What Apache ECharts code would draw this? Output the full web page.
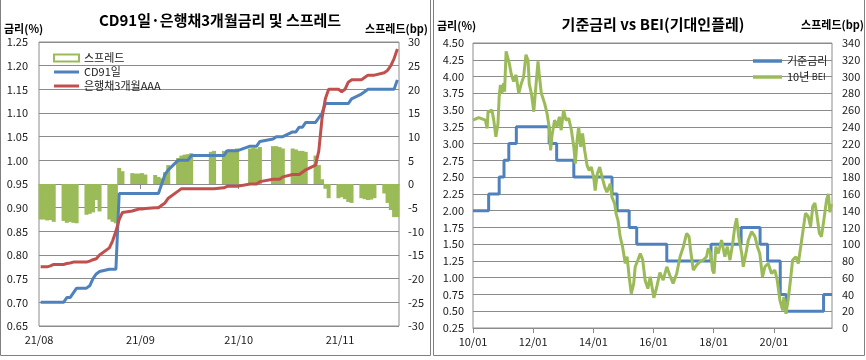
<!DOCTYPE html>
<html><head><meta charset="utf-8">
<script src="https://cdn.jsdelivr.net/npm/echarts@6/dist/echarts.min.js"></script>
<style>html,body{margin:0;padding:0;background:#fff}#c{width:866px;height:360px}</style>
</head><body><div id="c"></div>
<script>
const FONT = '"Noto Sans CJK KR","Noto Sans",sans-serif';

// ---------- Left chart: CD91 vs bank bond 3M AAA (2021) ----------
const leftDates = [
 '08-02','08-03','08-04','08-05','08-06','08-09','08-10','08-11','08-12','08-13',
 '08-16','08-17','08-18','08-19','08-20','08-23','08-24','08-25','08-26','08-27',
 '08-30','08-31','09-01','09-02','09-03','09-06','09-07','09-08','09-09','09-10',
 '09-13','09-14','09-15','09-16','09-17','09-23','09-24','09-27','09-28','09-29',
 '09-30','10-01','10-05','10-06','10-07','10-08','10-12','10-13','10-14','10-15',
 '10-18','10-19','10-20','10-21','10-22','10-25','10-26','10-27','10-28','10-29',
 '11-01','11-02','11-03','11-04','11-05','11-08','11-09','11-10','11-11','11-12',
 '11-15','11-16','11-17','11-18','11-19'];
const cd91 = [
 0.70,0.70,0.70,0.70,0.70, 0.70,0.71,0.71,0.72,0.73,
 0.73,0.735,0.75,0.76,0.765, 0.77,0.77,0.77,0.93,0.93,
 0.93,0.93,0.93,0.93,0.93, 0.93,0.93,0.95,0.97,0.98,
 1.00,1.00,1.00,1.00,1.01, 1.01,1.01, 1.01,1.02,1.02,
 1.02,1.02, 1.03,1.03,1.03,1.04, 1.045,1.05,1.05,1.05,
 1.06,1.06,1.07,1.07,1.08, 1.08,1.09,1.10,1.12,1.12,
 1.12,1.12,1.12,1.12,1.13, 1.14,1.145,1.15,1.15,1.15,
 1.15,1.15,1.15,1.15,1.17];
const bank3m = [
 0.775,0.775,0.775,0.777,0.78, 0.78,0.782,0.783,0.785,0.785,
 0.785,0.787,0.79,0.792,0.80, 0.815,0.83,0.85,0.875,0.89,
 0.893,0.895,0.897,0.897,0.898, 0.90,0.90,0.905,0.91,0.92,
 0.935,0.94,0.94,0.94,0.94, 0.94,0.94, 0.942,0.945,0.945,
 0.945,0.945, 0.95,0.95,0.95,0.955, 0.96,0.96,0.96,0.965,
 0.97,0.97,0.97,0.975,0.98, 0.99,1.02,1.09,1.13,1.15,
 1.15,1.145,1.15,1.165,1.17, 1.17,1.175,1.18,1.18,1.18,
 1.185,1.19,1.20,1.215,1.235];
const spreadBp = [
 -7.5,-7.5,-7.7,-7.6,-8.0, -7.8,-8.2,-8.0,-8.2,-8.3,
 -6.5,-6.3,-6.0,-3.4,-5.8, -7.5,-8.0,-8.3,3.4,2.7,
 2.3,2.2,2.2,2.3,2.0, 1.9,1.5,1.2,2.5,4.0,
 5.5,6.0,6.2,6.3,6.5, 6.8,7.0, 7.0,7.2,7.3,
 7.3,7.5, 7.5,7.6,7.5,7.8, 8.0,8.0,7.8,7.5,
 7.5,7.3,7.0,7.0,6.8, 6.0,4.0,1.0,-1.0,-3.0,
 -3.0,-2.8,-3.2,-3.8,-4.0, -3.0,-3.2,-3.4,-3.3,-3.0,
 -2.0,-4.0,-5.5,-7.0,-7.0];
const leftTickDates = ['08-02','09-02','10-02','11-02'];
const leftTickLabels = ['21/08','21/09','21/10','21/11'];

// ---------- Right chart: base rate vs 10y BEI ----------
const baseRateYears = [2010.00,2010.52,2010.87,2011.03,2011.19,2011.44,2012.53,2012.78,2013.35,2014.62,
 2014.79,2015.19,2015.44,2016.44,2017.91,2018.91,2019.54,2019.79,2020.21,2020.41,2021.65,2021.93];
const baseRate = [2.00,2.25,2.50,2.75,3.00,3.25,3.00,2.75,2.50,2.25,
 2.00,1.75,1.50,1.25,1.50,1.75,1.50,1.25,0.75,0.50,0.75,0.75];
const beiYears = [
 2010.00,2010.19,2010.41,2010.47,2010.50,2010.63,2010.69,2010.76,2010.83,2010.87,
 2010.91,2010.96,2011.02,2011.05,2011.10,2011.14,2011.21,2011.27,2011.35,2011.43,
 2011.52,2011.60,2011.68,2011.76,2011.83,2011.87,2011.94,2012.02,2012.07,2012.16,
 2012.20,2012.27,2012.38,2012.46,2012.53,2012.58,2012.62,2012.71,2012.79,2012.87,
 2012.93,2013.01,2013.09,2013.18,2013.27,2013.35,2013.40,2013.46,2013.51,2013.58,
 2013.64,2013.71,2013.79,2013.86,2013.93,2014.01,2014.06,2014.13,2014.21,2014.29,
 2014.38,2014.45,2014.56,2014.62,2014.71,2014.75,2014.82,2014.89,2014.97,2015.06,
 2015.12,2015.19,2015.26,2015.34,2015.39,2015.48,2015.56,2015.64,2015.72,2015.81,
 2015.89,2016.01,2016.10,2016.21,2016.32,2016.44,2016.54,2016.65,2016.77,2016.88,
 2016.99,2017.10,2017.18,2017.23,2017.32,2017.43,2017.54,2017.65,2017.76,2017.82,
 2017.90,2017.96,2018.01,2018.07,2018.15,2018.26,2018.37,2018.45,2018.54,2018.63,
 2018.70,2018.76,2018.83,2018.93,2018.98,2019.07,2019.15,2019.26,2019.37,2019.45,
 2019.53,2019.62,2019.70,2019.81,2019.92,2020.03,2020.11,2020.20,2020.29,2020.33,
 2020.40,2020.47,2020.55,2020.62,2020.73,2020.81,2020.89,2020.97,2021.05,2021.14,
 2021.22,2021.29,2021.36,2021.42,2021.51,2021.58,2021.66,2021.75,2021.81,2021.86,
 2021.91];
const beiBp = [
 248,251,248,238,258,260,248,228,244,276,
 290,280,292,282,330,332,315,303,294,302,
 280,291,299,326,319,291,280,258,280,318,
 303,280,268,256,240,212,228,248,240,252,
 236,260,248,250,236,216,196,224,240,216,
 232,212,194,188,192,180,164,184,192,180,
 168,162,172,156,148,137,128,109,97,77,
 85,61,41,53,73,81,89,81,57,47,
 61,36,48,66,57,73,63,53,65,85,
 97,113,109,93,69,75,79,81,85,95,
 89,69,65,97,89,105,85,97,81,101,
 121,131,109,89,73,89,105,115,109,97,
 89,61,73,77,65,69,57,33,21,37,
 17,33,57,81,85,77,97,117,137,133,
 121,145,149,137,113,109,129,153,160,138,
 148];
const rightTickYears = [2010,2012,2014,2016,2018,2020];
const rightTickLabels = ['10/01','12/01','14/01','16/01','18/01','20/01'];

// ---------- helpers ----------
const BASE = Date.UTC(2021,7,2);
function dayOff(s){const [m,d]=s.split('-').map(Number);return (Date.UTC(2021,m-1,d)-BASE)/864e5;}
const lx = leftDates.map(d=>dayOff(d)+0.5);
const zip = (xs,ys)=>xs.map((x,i)=>[x,ys[i]]);
const leftTickPos = leftTickDates.map(dayOff);

const GRIDC = '#8c8c8c', TXT = '#1a1a1a';
const BLUE = '#4F81BD', RED = '#C0504D', GREEN = '#9BBB59';
const lbl = {color:TXT,fontSize:11,fontFamily:FONT};
const LINE_ICON = 'path://M0,0L25,0L25,3L0,3Z';

const chart = echarts.init(document.getElementById('c'), null, {renderer:'canvas'});
chart.setOption({
  animation:false,
  textStyle:{fontFamily:FONT},
  grid:[
    {left:39,top:42,width:360,height:284,show:true,borderColor:GRIDC,borderWidth:1,containLabel:false},
    {left:473,top:43,width:359,height:285,show:true,borderColor:GRIDC,borderWidth:1,containLabel:false}
  ],
  xAxis:[
    {type:'value',gridIndex:0,min:0,max:110,
     axisLine:{lineStyle:{color:GRIDC}},splitLine:{show:false},
     axisTick:{show:true,length:5,lineStyle:{color:GRIDC},customValues:leftTickPos},
     axisLabel:Object.assign({},lbl,{margin:8,customValues:leftTickPos,
       formatter:v=>{const i=leftTickPos.indexOf(v);return i>=0?leftTickLabels[i]:'';}})},
    {type:'value',gridIndex:1,min:2010,max:2021.93,
     axisLine:{lineStyle:{color:GRIDC}},splitLine:{show:false},
     axisTick:{show:true,length:5,lineStyle:{color:GRIDC},customValues:rightTickYears},
     axisLabel:Object.assign({},lbl,{margin:8,customValues:rightTickYears,
       formatter:v=>{const i=rightTickYears.indexOf(Math.round(v));return i>=0?rightTickLabels[i]:'';}})}
  ],
  yAxis:[
    {type:'value',gridIndex:0,position:'left',min:0.65,max:1.25,interval:0.05,
     axisLine:{show:false},axisTick:{show:false},
     splitLine:{lineStyle:{color:GRIDC}},
     axisLabel:Object.assign({},lbl,{margin:11,formatter:v=>v.toFixed(2)})},
    {type:'value',gridIndex:0,position:'right',min:-30,max:30,interval:5,
     axisLine:{show:false},axisTick:{show:false},splitLine:{show:false},
     axisLabel:Object.assign({},lbl,{margin:9,formatter:v=>String(Math.round(v))})},
    {type:'value',gridIndex:1,position:'left',min:0.25,max:4.5,interval:0.25,
     axisLine:{show:false},axisTick:{show:false},
     splitLine:{lineStyle:{color:GRIDC}},
     axisLabel:Object.assign({},lbl,{margin:9,formatter:v=>v.toFixed(2)})},
    {type:'value',gridIndex:1,position:'right',min:0,max:340,interval:20,
     axisLine:{show:false},axisTick:{show:false},splitLine:{show:false},
     axisLabel:Object.assign({},lbl,{margin:10,formatter:v=>String(Math.round(v))})}
  ],
  legend:[
    {left:48,top:46,orient:'vertical',itemWidth:25,itemHeight:7,itemGap:0,
     textStyle:{fontSize:11,color:TXT,fontFamily:FONT,lineHeight:14},
     data:[
       {name:'스프레드',icon:'rect',itemStyle:{color:'#fff',borderColor:GREEN,borderWidth:2}},
       {name:'CD91일',icon:LINE_ICON,itemStyle:{color:BLUE}},
       {name:'은행채3개월AAA',icon:LINE_ICON,itemStyle:{color:RED}}]},
    {left:748,top:48,orient:'vertical',itemWidth:29,itemHeight:8,itemGap:0,
     textStyle:{fontSize:11,color:TXT,fontFamily:FONT,lineHeight:16,
       rich:{s:{fontSize:9,fontFamily:FONT,color:TXT}}},
     formatter:n=>n==='10년 BEI'?'10년 {s|BEI}':n,
     data:[{name:'기준금리',icon:LINE_ICON,itemStyle:{color:BLUE}},
           {name:'10년 BEI',icon:LINE_ICON,itemStyle:{color:GREEN}}]}
  ],
  series:[
    {name:'스프레드',type:'bar',xAxisIndex:0,yAxisIndex:1,barWidth:4,
     itemStyle:{color:GREEN},data:zip(lx,spreadBp)},
    {name:'CD91일',type:'line',xAxisIndex:0,yAxisIndex:0,showSymbol:false,symbol:'none',
     lineStyle:{color:BLUE,width:3},itemStyle:{color:BLUE},data:zip(lx,cd91)},
    {name:'은행채3개월AAA',type:'line',xAxisIndex:0,yAxisIndex:0,showSymbol:false,symbol:'none',
     lineStyle:{color:RED,width:3},itemStyle:{color:RED},data:zip(lx,bank3m)},
    {name:'기준금리',type:'line',xAxisIndex:1,yAxisIndex:2,step:'end',showSymbol:false,symbol:'none',
     lineStyle:{color:BLUE,width:3},itemStyle:{color:BLUE},data:zip(baseRateYears,baseRate)},
    {name:'10년 BEI',type:'line',xAxisIndex:1,yAxisIndex:3,showSymbol:false,symbol:'none',
     lineStyle:{color:GREEN,width:3},itemStyle:{color:GREEN},data:zip(beiYears,beiBp)}
  ],
  graphic:[
    {type:'rect',shape:{x:0.5,y:-2,width:430,height:357.5},style:{fill:'none',stroke:'#808080',lineWidth:1},silent:true},
    {type:'rect',shape:{x:433.5,y:-2,width:431,height:357.5},style:{fill:'none',stroke:'#808080',lineWidth:1},silent:true},
    {type:'text',x:220,y:20,style:{text:'CD91일·은행채3개월금리 및 스프레드',font:'bold 15px '+FONT,fill:'#000',align:'center',verticalAlign:'middle'}},
    {type:'text',x:4,y:29,style:{text:'금리(%)',font:'bold 11px '+FONT,fill:'#000',align:'left',verticalAlign:'middle'}},
    {type:'text',x:428,y:29,style:{text:'스프레드(bp)',font:'bold 11px '+FONT,fill:'#000',align:'right',verticalAlign:'middle'}},
    {type:'text',x:653,y:24,style:{text:'기준금리 vs BEI(기대인플레)',font:'bold 15px '+FONT,fill:'#000',align:'center',verticalAlign:'middle'}},
    {type:'text',x:437,y:26,style:{text:'금리(%)',font:'bold 11px '+FONT,fill:'#000',align:'left',verticalAlign:'middle'}},
    {type:'text',x:864,y:25,style:{text:'스프레드(bp)',font:'bold 11px '+FONT,fill:'#000',align:'right',verticalAlign:'middle'}}
  ]
});
</script></body></html>
